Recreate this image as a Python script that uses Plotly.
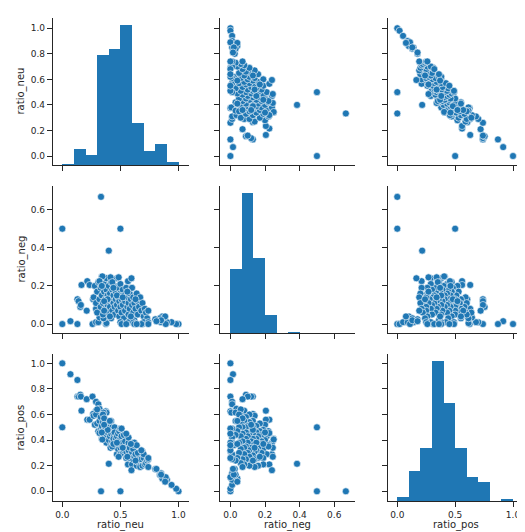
import numpy as np
import plotly.graph_objects as go

variables = ["ratio_neu", "ratio_neg", "ratio_pos"]

ratio_neu = [
    0.00, 0.07, 0.13, 0.00, 0.333, 0.50, 0.40, 1.00, 0.98, 0.94,
    0.90, 0.86, 0.84, 0.85, 0.80, 0.13, 0.14, 0.155, 0.16, 0.21,
    0.165, 0.215, 0.235, 0.26, 0.29, 0.31, 0.32, 0.375, 0.38, 0.29,
    0.265, 0.355, 0.345, 0.27, 0.28, 0.29, 0.30, 0.30, 0.31, 0.32,
    0.33, 0.33, 0.34, 0.34, 0.35, 0.35, 0.36, 0.36, 0.37, 0.37,
    0.38, 0.38, 0.39, 0.39, 0.40, 0.40, 0.40, 0.41, 0.41, 0.42,
    0.42, 0.42, 0.43, 0.43, 0.44, 0.44, 0.45, 0.45, 0.45, 0.46,
    0.46, 0.47, 0.47, 0.48, 0.48, 0.48, 0.49, 0.49, 0.50, 0.50,
    0.50, 0.51, 0.51, 0.52, 0.52, 0.53, 0.53, 0.54, 0.54, 0.55,
    0.55, 0.56, 0.565, 0.57, 0.57, 0.58, 0.58, 0.59, 0.60, 0.60,
    0.61, 0.61, 0.62, 0.62, 0.63, 0.64, 0.65, 0.65, 0.66, 0.67,
    0.68, 0.69, 0.70, 0.71, 0.72, 0.73, 0.74, 0.50, 0.51, 0.57,
    0.61, 0.62, 0.69, 0.70, 0.74, 0.595, 0.345, 0.415, 0.485, 0.32,
    0.89, 0.885, 0.85, 0.81, 0.74, 0.68, 0.64, 0.55, 0.36, 0.43,
    0.44, 0.47, 0.52, 0.56, 0.39, 0.36, 0.41, 0.59, 0.63, 0.34,
]
ratio_neg = [
    0.00, 0.015, 0.00, 0.50, 0.667, 0.50, 0.385, 0.00, 0.00, 0.01,
    0.01, 0.04, 0.03, 0.01, 0.025, 0.13, 0.12, 0.09, 0.10, 0.07,
    0.205, 0.225, 0.205, 0.00, 0.01, 0.01, 0.035, 0.00, 0.005, 0.08,
    0.13, 0.03, 0.06, 0.14, 0.20, 0.11, 0.17, 0.06, 0.22, 0.13,
    0.09, 0.19, 0.25, 0.15, 0.05, 0.11, 0.21, 0.17, 0.08, 0.13,
    0.24, 0.18, 0.10, 0.15, 0.06, 0.20, 0.12, 0.16, 0.09, 0.22,
    0.03, 0.13, 0.18, 0.07, 0.11, 0.15, 0.20, 0.05, 0.09, 0.13,
    0.17, 0.24, 0.10, 0.07, 0.14, 0.19, 0.12, 0.04, 0.16, 0.09,
    0.21, 0.13, 0.06, 0.18, 0.10, 0.15, 0.03, 0.12, 0.07, 0.19,
    0.14, 0.09, 0.225, 0.11, 0.05, 0.16, 0.08, 0.13, 0.10, 0.19,
    0.06, 0.14, 0.11, 0.02, 0.08, 0.16, 0.12, 0.05, 0.09, 0.14,
    0.07, 0.11, 0.04, 0.08, 0.06, 0.03, 0.07, 0.01, 0.00, 0.01,
    0.01, 0.00, 0.00, 0.01, 0.01, 0.24, 0.25, 0.245, 0.245, 0.225,
    0.00, 0.04, 0.02, 0.015, 0.00, 0.00, 0.00, 0.00, 0.07, 0.22,
    0.19, 0.15, 0.14, 0.17, 0.13, 0.12, 0.04, 0.04, 0.13, 0.20,
]
ratio_pos = [
    1.00, 0.915, 0.87, 0.50, 0.00, 0.00, 0.215, 0.00, 0.02, 0.05,
    0.09, 0.10, 0.13, 0.14, 0.175, 0.74, 0.74, 0.755, 0.74, 0.72,
    0.63, 0.56, 0.56, 0.74, 0.70, 0.68, 0.645, 0.625, 0.615, 0.63,
    0.605, 0.615, 0.595, 0.59, 0.52, 0.60, 0.53, 0.64, 0.47, 0.55,
    0.58, 0.48, 0.41, 0.51, 0.60, 0.54, 0.43, 0.47, 0.55, 0.50,
    0.38, 0.44, 0.51, 0.46, 0.54, 0.40, 0.48, 0.43, 0.50, 0.36,
    0.55, 0.45, 0.39, 0.50, 0.45, 0.41, 0.35, 0.50, 0.46, 0.41,
    0.37, 0.29, 0.43, 0.45, 0.38, 0.33, 0.39, 0.47, 0.34, 0.41,
    0.29, 0.36, 0.43, 0.30, 0.38, 0.32, 0.44, 0.34, 0.39, 0.26,
    0.31, 0.35, 0.21, 0.32, 0.38, 0.26, 0.34, 0.28, 0.30, 0.21,
    0.33, 0.25, 0.27, 0.36, 0.29, 0.20, 0.23, 0.30, 0.25, 0.19,
    0.25, 0.20, 0.26, 0.21, 0.22, 0.24, 0.19, 0.49, 0.49, 0.42,
    0.38, 0.38, 0.31, 0.29, 0.25, 0.165, 0.405, 0.34, 0.27, 0.455,
    0.11, 0.075, 0.13, 0.175, 0.26, 0.32, 0.36, 0.45, 0.57, 0.35,
    0.37, 0.38, 0.34, 0.27, 0.48, 0.52, 0.55, 0.37, 0.24, 0.46,
]

# histogram bin counts (10 bins each) and bin ranges
neu_hist_counts = [1, 17, 11, 116, 123, 148, 44, 15, 22, 3]
neg_hist_counts = [108, 235, 126, 31, 0, 2, 0, 0, 0, 0]
pos_hist_counts = [5, 35, 63, 166, 116, 63, 29, 22, 0, 2]
neu_hist_range = [0.0, 1.0]
neg_hist_range = [0.0, 0.667]
pos_hist_range = [0.0, 1.0]

values = {"ratio_neu": ratio_neu, "ratio_neg": ratio_neg, "ratio_pos": ratio_pos}
hists = {
    "ratio_neu": (neu_hist_counts, neu_hist_range),
    "ratio_neg": (neg_hist_counts, neg_hist_range),
    "ratio_pos": (pos_hist_counts, pos_hist_range),
}

BLUE = "#1f77b4"
DARK = "#262626"
FONT = "DejaVu Sans"

col_dom = [[0.0, 0.2887], [0.3546, 0.6412], [0.7113, 1.0]]
row_dom = [[0.6957, 1.0], [0.3478, 0.6522], [0.0, 0.3043]]
ax_range = {
    "x": [[-0.08, 1.09], [-0.06, 0.72], [-0.08, 1.095]],
    "y": [[-0.07, 1.08], [-0.047, 0.724], [-0.076, 1.073]],
}
x_ticks = [[0, 0.5, 1.0], [0, 0.2, 0.4, 0.6], [0, 0.5, 1.0]]
y_ticks = [[0, 0.2, 0.4, 0.6, 0.8, 1.0], [0, 0.2, 0.4, 0.6], [0, 0.2, 0.4, 0.6, 0.8, 1.0]]

fig = go.Figure()
layout = {}

common = dict(
    showline=True, linecolor=DARK, linewidth=1.25, mirror=False,
    ticks="outside", ticklen=5, tickwidth=1.25, tickcolor=DARK,
    showgrid=False, zeroline=False, tickformat=".1f",
    tickfont=dict(family=FONT, size=9, color=DARK),
    automargin=False, layer="above traces",
)

n = len(variables)
# histogram traces first (on their own hidden axes, drawn underneath)
for d in range(n):
    hk = n * n + d + 1
    counts, rng = hists[variables[d]]
    nb = len(counts)
    edges = np.linspace(rng[0], rng[1], nb + 1)
    centers = (edges[:-1] + edges[1:]) / 2
    width = edges[1] - edges[0]
    layout[f"xaxis{hk}"] = dict(domain=col_dom[d], range=ax_range["x"][d], anchor=f"y{hk}",
                                visible=False, showgrid=False, zeroline=False)
    layout[f"yaxis{hk}"] = dict(domain=row_dom[d], range=[0, max(counts) * 1.05], anchor=f"x{hk}",
                                visible=False, showgrid=False, zeroline=False)
    fig.add_trace(go.Bar(
        x=centers, y=counts, width=[width] * nb,
        marker=dict(color=BLUE, line=dict(width=0)),
        xaxis=f"x{hk}", yaxis=f"y{hk}", showlegend=False, hoverinfo="skip",
    ))

for r in range(n):
    for c in range(n):
        k = r * n + c + 1
        sfx = "" if k == 1 else str(k)
        xa = dict(common, domain=col_dom[c], range=ax_range["x"][c],
                  tickvals=x_ticks[c], anchor=f"y{sfx}",
                  showticklabels=(r == n - 1))
        ya = dict(common, domain=row_dom[r], range=ax_range["y"][r],
                  tickvals=y_ticks[r], anchor=f"x{sfx}",
                  showticklabels=(c == 0))
        layout[f"xaxis{sfx}"] = xa
        layout[f"yaxis{sfx}"] = ya
        if r != c:
            fig.add_trace(go.Scatter(
                x=values[variables[c]], y=values[variables[r]], mode="markers",
                marker=dict(color=BLUE, size=7, line=dict(color="white", width=0.6)),
                xaxis=f"x{sfx}", yaxis=f"y{sfx}", showlegend=False,
            ))
        else:
            fig.add_trace(go.Scatter(x=[], y=[], mode="markers",
                                     xaxis=f"x{sfx}", yaxis=f"y{sfx}", showlegend=False))

annotations = []
plot_left, plot_w = 45, 471
plot_bottom, plot_h = 493, 483
for c in range(n):
    annotations.append(dict(
        text=variables[c], xref="paper", yref="paper",
        x=(col_dom[c][0] + col_dom[c][1]) / 2, y=(plot_bottom - 517) / plot_h,
        xanchor="center", yanchor="middle", showarrow=False,
        font=dict(family=FONT, size=10, color=DARK),
    ))
for r in range(n):
    annotations.append(dict(
        text=variables[r], xref="paper", yref="paper",
        x=(13 - plot_left) / plot_w, y=(row_dom[r][0] + row_dom[r][1]) / 2,
        xanchor="center", yanchor="middle", textangle=-90, showarrow=False,
        font=dict(family=FONT, size=10, color=DARK),
    ))

fig.update_layout(
    width=525, height=532,
    margin=dict(l=45, r=9, t=10, b=39),
    paper_bgcolor="white", plot_bgcolor="rgba(0,0,0,0)",
    bargap=0, barmode="overlay",
    font=dict(family=FONT, color=DARK),
    annotations=annotations,
    **layout,
)

fig.write_html("out.html")
